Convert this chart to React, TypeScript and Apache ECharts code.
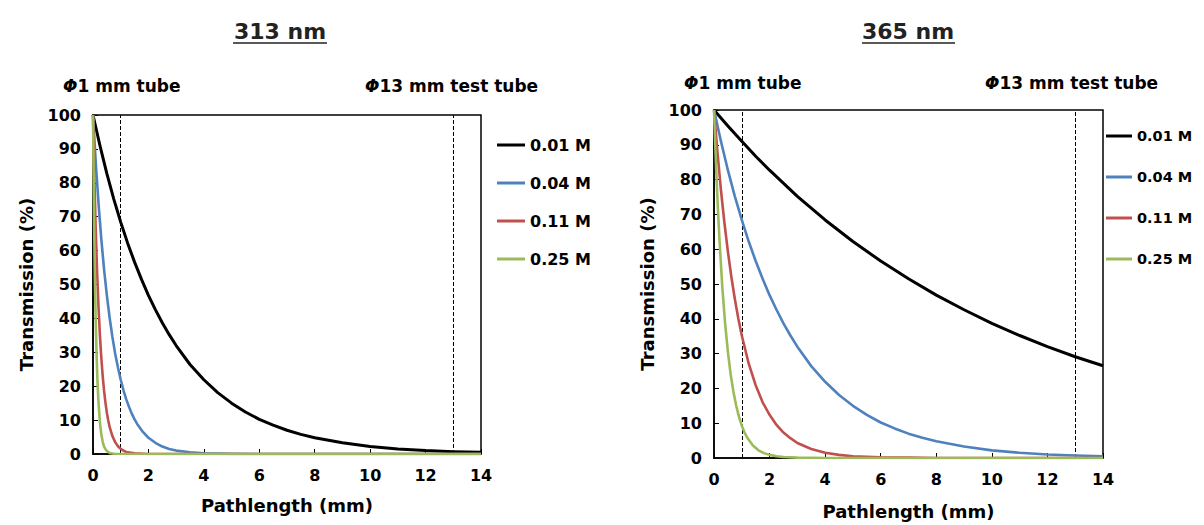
import React, { useEffect, useRef } from "react";
import * as echarts from "echarts";

const seriesNames = ["0.01 M", "0.04 M", "0.11 M", "0.25 M"];
const seriesColors = ["#000000", "#4F81BD", "#C0504D", "#9BBB59"];
const xTicks = { min: 0, max: 14, interval: 2 };
const yTicks = { min: 0, max: 100, interval: 10 };
const tubeMarks = [1, 13];
const panelTitles = ["313 nm", "365 nm"];

// 313 nm panel
const p313_001 = [[0,100],[0.25,91],[0.5,82.7],[0.75,75.2],[1,68.4],[1.25,62.2],[1.5,56.6],[1.75,51.5],[2,46.8],[2.25,42.6],[2.5,38.7],[2.75,35.2],[3,32],[3.5,26.4],[4,21.9],[4.5,18.1],[5,15],[5.5,12.4],[6,10.2],[6.5,8.5],[7,7],[7.5,5.8],[8,4.8],[9,3.3],[10,2.2],[11,1.5],[12,1.0],[13,0.7],[14,0.5]];
const p313_004 = [[0,100],[0.1,86],[0.2,73.8],[0.3,63.4],[0.4,54.4],[0.5,46.8],[0.6,40.2],[0.7,34.5],[0.8,29.6],[0.9,25.5],[1,21.9],[1.1,18.8],[1.2,16.1],[1.3,13.9],[1.4,11.9],[1.5,10.2],[1.6,8.8],[1.8,6.5],[2,4.8],[2.25,3.3],[2.5,2.2],[2.75,1.5],[3,1.0],[3.5,0.5],[4,0.2],[5,0.05],[6,0],[10,0],[14,0]];
const p313_011 = [[0,100],[0.05,81],[0.1,65.7],[0.15,53.3],[0.2,43.2],[0.25,35],[0.3,28.4],[0.35,23],[0.4,18.6],[0.45,15.1],[0.5,12.2],[0.55,9.9],[0.6,8],[0.7,5.3],[0.8,3.5],[0.9,2.3],[1,1.5],[1.1,1.0],[1.2,0.6],[1.5,0.2],[2,0],[8,0],[14,0]];
const p313_025 = [[0,100],[0.025,79],[0.05,62],[0.075,49],[0.1,38.7],[0.125,30.5],[0.15,24],[0.175,19],[0.2,15],[0.25,9.3],[0.3,5.8],[0.35,3.6],[0.4,2.2],[0.45,1.4],[0.5,0.9],[0.6,0.3],[0.8,0],[7,0],[14,0]];

// 365 nm panel
const p365_001 = [[0,100],[0.5,95.4],[1,91],[1.5,86.7],[2,82.7],[3,75.2],[4,68.4],[5,62.2],[6,56.6],[7,51.5],[8,46.8],[9,42.6],[10,38.7],[11,35.2],[12,32],[13,29.1],[14,26.5]];
const p365_004 = [[0,100],[0.25,91],[0.5,82.7],[0.75,75.2],[1,68.4],[1.25,62.2],[1.5,56.6],[1.75,51.5],[2,46.8],[2.25,42.6],[2.5,38.7],[2.75,35.2],[3,32],[3.5,26.4],[4,21.9],[4.5,18.1],[5,15],[5.5,12.4],[6,10.2],[6.5,8.5],[7,7],[7.5,5.8],[8,4.8],[9,3.3],[10,2.2],[11,1.5],[12,1.0],[13,0.7],[14,0.5]];
const p365_011 = [[0,100],[0.125,87.8],[0.25,77],[0.375,67.6],[0.5,59.3],[0.625,52],[0.75,45.7],[0.875,40.1],[1,35.2],[1.25,27.1],[1.5,20.9],[1.75,16],[2,12.4],[2.25,9.5],[2.5,7.3],[2.75,5.7],[3,4.3],[3.5,2.6],[4,1.5],[4.5,0.9],[5,0.5],[6,0.2],[7,0.1],[8,0],[14,0]];
const p365_025 = [[0,100],[0.05,88.8],[0.1,78.9],[0.15,70.1],[0.2,62.2],[0.3,49],[0.4,38.7],[0.5,30.5],[0.6,24],[0.7,19],[0.8,15],[0.9,11.8],[1,9.3],[1.1,7.3],[1.2,5.8],[1.4,3.6],[1.6,2.2],[1.8,1.4],[2,0.9],[2.25,0.5],[2.5,0.3],[3,0.1],[4,0],[9,0],[14,0]];

const panels = [
  [p313_001, p313_004, p313_011, p313_025],
  [p365_001, p365_004, p365_011, p365_025],
];

const FONT = "'DejaVu Sans', Arial, sans-serif";

export default function App() {
  const ref = useRef<HTMLDivElement>(null);
  useEffect(() => {
    if (!ref.current) return;
    const chart = echarts.init(ref.current, undefined, { renderer: "svg" });

    const grids = [
      { left: 93, top: 115, width: 388, height: 339 },
      { left: 714, top: 110, width: 389, height: 348 },
    ];

    const axisCommon = {
      axisLine: { show: true, onZero: false, lineStyle: { color: "#000", width: 1.5 } },
      axisTick: { show: true, inside: true, length: 5, lineStyle: { color: "#000", width: 1 } },
      splitLine: { show: false },
      nameLocation: "middle" as const,
      nameTextStyle: { fontFamily: FONT, fontWeight: "bold" as const, fontSize: 18, color: "#000" },
    };

    const xAxes = grids.map((_, i) => ({
      ...axisCommon,
      type: "value" as const,
      gridIndex: i,
      ...xTicks,
      name: "Pathlength (mm)",
      nameGap: i === 0 ? 42 : 44,
      axisLabel: { fontFamily: FONT, fontWeight: "bold", fontSize: 16, color: "#000", margin: 13 },
    }));
    const yAxes = grids.map((_, i) => ({
      ...axisCommon,
      type: "value" as const,
      gridIndex: i,
      ...yTicks,
      name: "Transmission (%)",
      nameGap: 58,
      axisLabel: { fontFamily: FONT, fontWeight: "bold", fontSize: 16, color: "#000", margin: 12 },
    }));

    const series: any[] = [];
    panels.forEach((panel, pi) => {
      panel.forEach((data, si) => {
        const s: any = {
          type: "line",
          name: seriesNames[si],
          xAxisIndex: pi,
          yAxisIndex: pi,
          data,
          showSymbol: false,
          symbol: "none",
          smooth: false,
          lineStyle: { color: seriesColors[si], width: si === 0 ? 3 : 2.6, join: "round" },
          itemStyle: { color: seriesColors[si] },
          z: 2 + si,
        };
        if (si === 0) {
          s.markLine = {
            silent: true,
            symbol: ["none", "none"],
            label: { show: false },
            lineStyle: { type: "dashed", color: "#000", width: 1 },
            data: tubeMarks.map((v) => ({ xAxis: v })),
            z: 1,
          };
        }
        series.push(s);
      });
    });

    const legendCommon = {
      orient: "vertical" as const,
      icon: "rect",
      itemHeight: 3,
      selectedMode: false,
      data: seriesNames,
    };

    const annot = (x: number, y: number, txt: string) => ({
      type: "text",
      x,
      y,
      style: {
        text: txt,
        fontFamily: FONT,
        fontWeight: "bold",
        fontSize: 17,
        fill: "#000",
        textVerticalAlign: "middle",
        rich: {
          i: { fontStyle: "italic", fontWeight: "bold", fontSize: 17, fontFamily: FONT, fill: "#000" },
          n: { fontWeight: "bold", fontSize: 17, fontFamily: FONT, fill: "#000" },
        },
      },
    });

    const titleEl = (cx: number, x1: number, x2: number, txt: string) => [
      {
        type: "text",
        x: cx,
        y: 31,
        style: {
          text: txt,
          fontFamily: FONT,
          fontWeight: "bold",
          fontSize: 22,
          fill: "#222",
          textAlign: "center",
          textVerticalAlign: "middle",
        },
      },
      {
        type: "line",
        shape: { x1, y1: 43, x2, y2: 43 },
        style: { stroke: "#222", lineWidth: 1.5 },
      },
    ];

    chart.setOption({
      animation: false,
      backgroundColor: "#fff",
      grid: grids.map((g) => ({ ...g, show: true, borderColor: "#000", borderWidth: 1.5, backgroundColor: "transparent" })),
      xAxis: xAxes,
      yAxis: yAxes,
      legend: [
        {
          ...legendCommon,
          left: 492,
          top: 131,
          itemWidth: 28,
          itemGap: 20,
          textStyle: { fontFamily: FONT, fontWeight: "bold", fontSize: 16, color: "#000", lineHeight: 18 },
        },
        {
          ...legendCommon,
          left: 1106,
          top: 122,
          itemWidth: 26,
          itemGap: 23,
          padding: [5, 2, 5, 0],
          textStyle: { fontFamily: FONT, fontWeight: "bold", fontSize: 14.5, color: "#000", lineHeight: 18 },
        },
      ],
      series,
      graphic: [
        ...titleEl(280, 233, 327, panelTitles[0]),
        ...titleEl(908, 862, 955, panelTitles[1]),
        annot(63, 86, "{i|Φ}{n|1 mm tube}"),
        annot(365, 86, "{i|Φ}{n|13 mm test tube}"),
        annot(684, 83, "{i|Φ}{n|1 mm tube}"),
        annot(985, 83, "{i|Φ}{n|13 mm test tube}"),
      ],
    });

    return () => chart.dispose();
  }, []);

  return (
    <div
      ref={ref}
      style={{ position: "fixed", left: 0, top: 0, width: 1204, height: 525, background: "#fff" }}
    />
  );
}
